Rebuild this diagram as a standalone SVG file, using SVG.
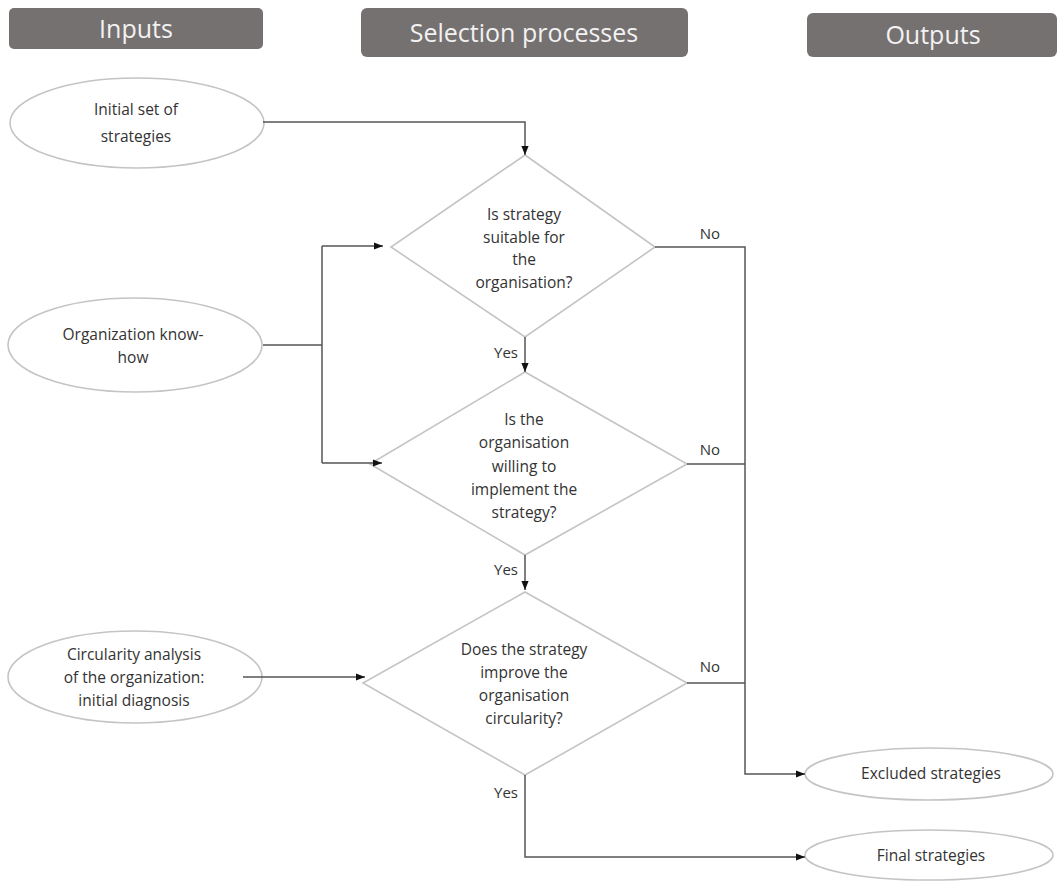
<svg xmlns="http://www.w3.org/2000/svg" width="1059" height="881" viewBox="0 0 1059 881">
<style>
.hdr{fill:#767171;}
.hdrt{font-family:"Open Sans","Liberation Sans",sans-serif;font-size:25px;fill:#f2f2f2;text-anchor:middle;}
.shape{fill:#ffffff;stroke:#c4c4c4;stroke-width:1.6;}
.t{font-family:"Open Sans","Liberation Sans",sans-serif;font-size:15.5px;fill:#333333;text-anchor:middle;}
.lbl{font-family:"Open Sans","Liberation Sans",sans-serif;font-size:15px;fill:#333333;}
.c{fill:none;stroke:#555555;stroke-width:1.5;}
</style>
<defs>
<marker id="arr" viewBox="0 0 10 10" refX="10" refY="5" markerWidth="9" markerHeight="9" markerUnits="userSpaceOnUse" orient="auto">
<path d="M0,1 L10,5 L0,9 z" fill="#111"/>
</marker>
</defs>
<rect width="1059" height="881" fill="#ffffff"/>

<g id="hdr-inputs"><rect class="hdr" x="9" y="8" width="254" height="41" rx="5"/><text class="hdrt" x="136" y="38">Inputs</text></g>
<g id="hdr-selection"><rect class="hdr" x="361" y="8" width="327" height="49" rx="6"/><text class="hdrt" x="524" y="42">Selection processes</text></g>
<g id="hdr-outputs"><rect class="hdr" x="807" y="13" width="250" height="44" rx="6"/><text class="hdrt" x="933" y="44">Outputs</text></g>

<g id="in-initial"><ellipse class="shape" cx="137" cy="123" rx="127" ry="45"/>
<text class="t" x="136" y="115">Initial set of</text><text class="t" x="136" y="142">strategies</text></g>
<g id="in-knowhow"><ellipse class="shape" cx="135" cy="345" rx="127" ry="47"/>
<text class="t" x="133" y="340">Organization know-</text><text class="t" x="133" y="363">how</text></g>
<g id="in-circularity"><ellipse class="shape" cx="135" cy="677" rx="127" ry="46"/>
<text class="t" x="134" y="660">Circularity analysis</text><text class="t" x="134" y="683">of the organization:</text><text class="t" x="134" y="706">initial diagnosis</text></g>

<g id="d-suitable"><polygon class="shape" points="525,155 655,247 525,337 391,247"/>
<text class="t" x="524" y="220">Is strategy</text><text class="t" x="524" y="243">suitable for</text><text class="t" x="524" y="265">the</text><text class="t" x="524" y="288">organisation?</text></g>
<g id="d-willing"><polygon class="shape" points="525,372 687,464 525,555 370,464"/>
<text class="t" x="524" y="425">Is the</text><text class="t" x="524" y="448">organisation</text><text class="t" x="524" y="472">willing to</text><text class="t" x="524" y="495">implement the</text><text class="t" x="524" y="518">strategy?</text></g>
<g id="d-improve"><polygon class="shape" points="525,592 687,683 525,775 363,683"/>
<text class="t" x="524" y="655">Does the strategy</text><text class="t" x="524" y="678">improve the</text><text class="t" x="524" y="701">organisation</text><text class="t" x="524" y="724">circularity?</text></g>

<g id="out-excluded"><ellipse class="shape" cx="929" cy="774" rx="124" ry="26"/>
<text class="t" x="931" y="779">Excluded strategies</text></g>
<g id="out-final"><ellipse class="shape" cx="929" cy="855" rx="124" ry="25"/>
<text class="t" x="931" y="861">Final strategies</text></g>

<g id="connectors">
<path class="c" d="M263,122 H525 V155" marker-end="url(#arr)"/>
<path class="c" d="M263,345 H322"/>
<path class="c" d="M322,246 V463"/>
<path class="c" d="M322,246 H383" marker-end="url(#arr)"/>
<path class="c" d="M322,463 H382" marker-end="url(#arr)"/>
<path class="c" d="M243,677 H365" marker-end="url(#arr)"/>
<path class="c" d="M525,337 V372" marker-end="url(#arr)"/>
<path class="c" d="M525,555 V590" marker-end="url(#arr)"/>
<path class="c" d="M525,775 V857 H805" marker-end="url(#arr)"/>
<path class="c" d="M655,247 H745 V774 H805" marker-end="url(#arr)"/>
<path class="c" d="M687,464 H745"/>
<path class="c" d="M687,683 H745"/>
<text class="lbl" x="710" y="239" text-anchor="middle">No</text>
<text class="lbl" x="710" y="455" text-anchor="middle">No</text>
<text class="lbl" x="710" y="672" text-anchor="middle">No</text>
<text class="lbl" x="518" y="358" text-anchor="end">Yes</text>
<text class="lbl" x="518" y="575" text-anchor="end">Yes</text>
<text class="lbl" x="518" y="798" text-anchor="end">Yes</text>
</g>
</svg>
